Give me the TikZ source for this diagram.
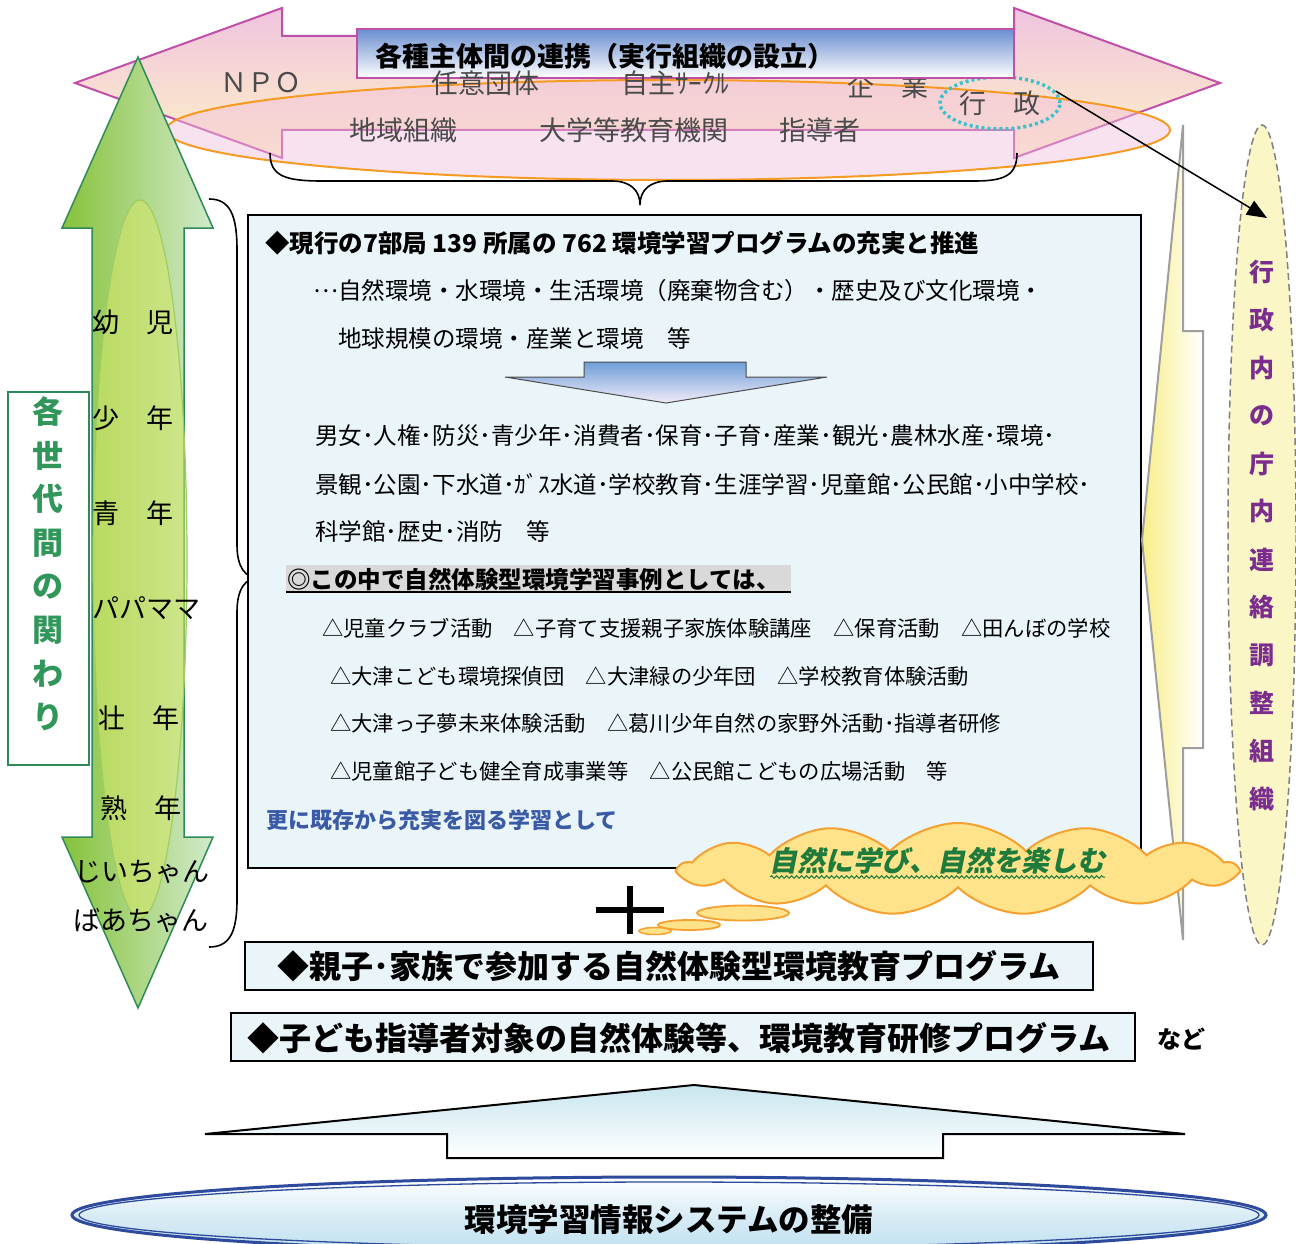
\documentclass[tikz,border=0pt]{standalone}
\usepackage{fontspec}
\setmainfont{Noto Sans CJK JP}
\newfontfamily\jpsl[FakeSlant=0.2]{Noto Sans CJK JP}
\usetikzlibrary{shapes.geometric,shapes.symbols,arrows.meta,decorations.pathmorphing}
\definecolor{mg}{HTML}{C04FA8}
\definecolor{pkA}{HTML}{EFC3DF}
\definecolor{ylA}{HTML}{FFF3C6}
\definecolor{orA}{HTML}{F59A23}
\definecolor{pkB}{HTML}{F2BEDD}
\definecolor{teal}{HTML}{3CC0CC}
\definecolor{tbl}{HTML}{6A8ECF}
\definecolor{grA}{HTML}{86C23A}
\definecolor{grB}{HTML}{D2EACB}
\definecolor{grE}{HTML}{2E8B57}
\definecolor{grIn}{HTML}{D6E86A}
\definecolor{grT}{HTML}{30965A}
\definecolor{boxbg}{HTML}{EAF5FA}
\definecolor{arBl}{HTML}{6F9ED8}
\definecolor{arLt}{HTML}{F2ECF8}
\definecolor{gryb}{HTML}{D9D9D9}
\definecolor{blT}{HTML}{3B5AA6}
\definecolor{clF}{HTML}{FFE38A}
\definecolor{clE}{HTML}{F5A030}
\definecolor{natG}{HTML}{1E7B3C}
\definecolor{upA}{HTML}{C9E6EF}
\definecolor{elB}{HTML}{2E4A9C}
\definecolor{elF}{HTML}{BFE0F0}
\definecolor{chY}{HTML}{F8EE88}
\definecolor{rgY}{HTML}{FBF6C6}
\definecolor{pur}{HTML}{7B2D8E}
\definecolor{dgr}{HTML}{4A4A4A}
\begin{document}
\begin{tikzpicture}[x=1pt,y=-1pt,
  lbl/.style={inner sep=0pt, text=dgr, font=\fontsize{27}{30}\selectfont},
  age/.style={inner sep=0pt, text=black, font=\fontsize{27}{30}\selectfont},
  body/.style={inner sep=0pt, anchor=west, font=\fontsize{23.5}{28}\selectfont},
  tri/.style={inner sep=0pt, anchor=west, font=\fontsize{21.3}{26}\selectfont},
  bigb/.style={inner sep=0pt, anchor=west, font=\bfseries\fontsize{32}{35}\selectfont},
  vgreen/.style={inner sep=0pt, text=grT, font=\bfseries\fontsize{31}{34}\selectfont},
  vpur/.style={inner sep=0pt, text=pur, font=\bfseries\fontsize{25}{28}\selectfont},
  boxline/.style={draw=black, line width=2pt, fill=boxbg}]
\useasboundingbox (0,0) rectangle (1296,1244);

% ---------- top pink double arrow ----------
\shade[top color=pkA, bottom color=ylA, draw=mg, line width=2pt, line join=miter]
  (75,83) -- (282,8) -- (282,36) -- (1014,36) -- (1014,8) -- (1220,83)
  -- (1014,158) -- (1014,130) -- (282,130) -- (282,158) -- cycle;
% orange ellipse
\fill[pkB, fill opacity=0.45] (668,130) ellipse [x radius=502, y radius=50];
\draw[orA, line width=2pt] (668,130) ellipse [x radius=502, y radius=50];

% labels in the band
\node[lbl] (npo) at (261,83) {ＮＰＯ};
\node[lbl] (kig) at (888,86) {企　業};
\node[lbl] (chi) at (403,130) {地域組織};
\node[lbl] (dai) at (634,130) {大学等教育機関};
\node[lbl] (shi) at (820,130) {指導者};
\node[lbl, ellipse, draw=teal, line width=3.5pt, dash pattern=on 3pt off 3pt,
      minimum width=120pt, minimum height=52pt] (gyo) at (1000,103) {行　政};

% title box
\shade[top color=tbl, bottom color=white, draw=mg, line width=2pt] (357,29) rectangle (1014,78);
\node[inner sep=0pt, anchor=west, font=\bfseries\fontsize{27}{30}\selectfont] (ttl) at (375,56)
  {各種主体間の連携（実行組織の設立）};
\node[lbl] (nini) at (485,83) {任意団体};
\node[lbl] (circ) at (675,83) {自主ｻｰｸﾙ};

% top brace
\draw[line width=1.6pt] (270,153) .. controls (270,176) and (285,181) .. (322,181)
  -- (612,181) .. controls (630,181) and (640,190) .. (640,205)
  .. controls (640,190) and (650,181) .. (668,181)
  -- (975,181) .. controls (1005,181) and (1017,175) .. (1017,153);

% ---------- left green double arrow ----------
\shade[left color=grA, right color=grB, draw=grE, line width=1.5pt]
  (138,57) -- (213,228) -- (184,228) -- (184,837) -- (213,837) -- (138,1008)
  -- (62,837) -- (92,837) -- (92,228) -- (62,228) -- cycle;
\fill[grIn, fill opacity=0.55] (140,559) ellipse [x radius=47, y radius=359];
\draw[grA!80, line width=1.2pt] (140,559) ellipse [x radius=47, y radius=359];

\node[age] (a1) at (133,322) {幼　児};
\node[age] (a2) at (133,418) {少　年};
\node[age] (a3) at (133,513) {青　年};
\node[age] (a4) at (146,608) {パパママ};
\node[age] (a5) at (139,718) {壮　年};
\node[age] (a6) at (141,808) {熟　年};
\node[age] (a7) at (142,872) {じいちゃん};
\node[age] (a8) at (141,920) {ばあちゃん};

% green framed vertical title
\draw[draw=grE, line width=2pt, fill=white] (8,392) rectangle (89,765);
\foreach \c [count=\i] in {各,世,代,間,の,関,わ,り}
  \node[vgreen] (gv\i) at (48,{412+43.6*(\i-1)}) {\c};

% left brace
\draw[line width=1.6pt] (209,199) .. controls (230,199) and (237,215) .. (237,250)
  -- (237,545) .. controls (237,568) and (246,578) .. (258,578)
  .. controls (246,578) and (237,588) .. (237,612)
  -- (237,900) .. controls (237,935) and (228,947) .. (209,947);

% ---------- main content box ----------
\draw[boxline] (248,215) rectangle (1141,868);
\node[inner sep=0pt, anchor=west, font=\bfseries\fontsize{24.5}{28}\selectfont] (h1) at (265,243)
  {◆現行の7部局 139 所属の 762 環境学習プログラムの充実と推進};
\node[body] (t1) at (313,291) {\raisebox{0.3em}{…}自然環境・水環境・生活環境（廃棄物含む）・歴史及び文化環境・};
\node[body] (t2) at (338,339) {地球規模の環境・産業と環境　等};
\shade[top color=arBl, bottom color=arLt, draw=black!70, line width=1pt]
  (584,362) -- (746,362) -- (746,377) -- (827,377) -- (666,403) -- (505,377) -- (584,377) -- cycle;
\node[body] (t3) at (315,436) {男女･人権･防災･青少年･消費者･保育･子育･産業･観光･農林水産･環境･};
\node[body] (t4) at (315,484) {景観･公園･下水道･ｶﾞｽ水道･学校教育･生涯学習･児童館･公民館･小中学校･};
\node[body] (t5) at (315,532) {科学館･歴史･消防　等};
\fill[gryb] (286,565) rectangle (791,593);
\draw[line width=2pt] (286,592) -- (791,592);
\node[inner sep=0pt, anchor=west, font=\bfseries\fontsize{23.5}{27}\selectfont] (t6) at (287,579)
  {◎この中で自然体験型環境学習事例としては、};
\node[tri] (r1) at (322,628) {△児童クラブ活動　△子育て支援親子家族体験講座　△保育活動　△田んぼの学校};
\node[tri] (r2) at (330,676) {△大津こども環境探偵団　△大津緑の少年団　△学校教育体験活動};
\node[tri] (r3) at (330,723) {△大津っ子夢未来体験活動　△葛川少年自然の家野外活動･指導者研修};
\node[tri] (r4) at (330,771) {△児童館子ども健全育成事業等　△公民館こどもの広場活動　等};
\node[inner sep=0pt, anchor=west, text=blT, font=\bfseries\fontsize{22}{26}\selectfont] (t7) at (266,820)
  {更に既存から充実を図る学習として};

% ---------- right chevron and ellipse ----------
\shade[left color=chY, right color=white, draw=black!38, line width=2pt]
  (1183,125) -- (1183,331) -- (1203,331) -- (1203,748) -- (1183,748) -- (1183,940) -- (1142,540) -- cycle;
\fill[rgY] (1262,535) ellipse [x radius=34, y radius=410];
\draw[black!50, line width=1.5pt, dash pattern=on 7pt off 4pt] (1262,535) ellipse [x radius=34, y radius=410];
\foreach \c [count=\i] in {行,政,内,の,庁,内,連,絡,調,整,組,織}
  \node[vpur] (pv\i) at (1262,{272+47.9*(\i-1)}) {\c};

\coordinate (tipc) at (1267,218);
\draw[line width=1.5pt, -{Triangle[length=20pt,width=16pt]}] (gyo.12) -- (tipc);

% ---------- cloud ----------
\node[cloud, cloud puffs=13, cloud puff arc=90, aspect=5.8, minimum width=556pt, minimum height=92pt,
      inner sep=0pt, draw=clE, fill=clF, line width=2pt] (cld) at (958,869) {};
\node[inner sep=0pt, text=natG, font=\jpsl\bfseries\fontsize{28}{30}\selectfont] (nat) at (937,861)
  {自然に学び、自然を楽しむ};
\draw[natG, line width=1pt, decorate, decoration={snake, amplitude=1.3pt, segment length=5pt}]
  (770,877) -- (1105,877);
\node[ellipse, draw=clE, fill=clF, line width=1.8pt, minimum width=92pt, minimum height=15pt, inner sep=0pt] (b1) at (743,913) {};
\node[ellipse, draw=clE, fill=clF, line width=1.8pt, minimum width=62pt, minimum height=10pt, inner sep=0pt] (b2) at (689,925) {};
\node[ellipse, draw=clE, fill=clF, line width=1.5pt, minimum width=32pt, minimum height=7pt, inner sep=0pt] (b3) at (655,931) {};

% plus sign
\draw[line width=6pt] (596,910) -- (664,910);
\draw[line width=6pt] (630,886) -- (630,934);

% ---------- lower boxes ----------
\draw[boxline] (245,942) rectangle (1093,990);
\node[bigb] (p1) at (277,966) {◆親子･家族で参加する自然体験型環境教育プログラム};
\draw[boxline] (231,1013) rectangle (1135,1061);
\node[inner sep=0pt, anchor=west, font=\bfseries\fontsize{32}{35}\selectfont] (p2) at (247,1038)
  {◆子ども指導者対象の自然体験等、環境教育研修プログラム};
\node[inner sep=0pt, font=\bfseries\fontsize{24}{28}\selectfont] (nado) at (1181,1039) {など};

% up arrow
\shade[top color=upA, bottom color=white, draw=black, line width=2pt]
  (694,1085) -- (1185,1134) -- (943,1134) -- (943,1158) -- (447,1158) -- (447,1134) -- (205,1134) -- cycle;

% bottom ellipse
\shade[top color=white, bottom color=elF, middle color=elF!60] (669,1215) ellipse [x radius=597, y radius=38];
\draw[elB, line width=3pt] (669,1215) ellipse [x radius=597, y radius=38];
\draw[elB, line width=1.3pt] (669,1215) ellipse [x radius=590, y radius=33];
\node[inner sep=0pt, font=\bfseries\fontsize{31.5}{34}\selectfont] (sys) at (669,1220) {環境学習情報システムの整備};
\end{tikzpicture}
\end{document}
